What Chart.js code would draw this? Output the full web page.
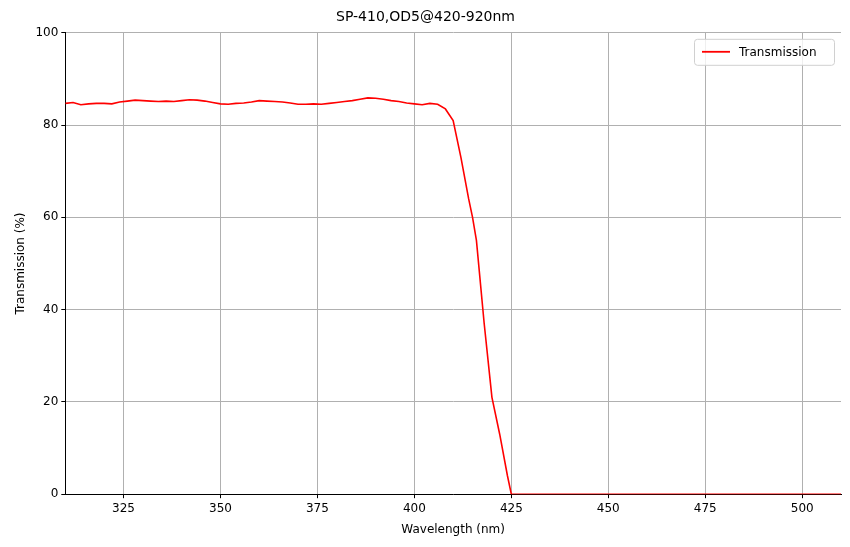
<!DOCTYPE html>
<html>
<head>
<script src="https://cdn.jsdelivr.net/npm/chart.js"></script>
<style>
  body { margin: 0; background: #fff; }
  #wrap { width: 850px; height: 547px; }
</style>
</head>
<body>
<div id="wrap"><canvas id="chart"></canvas></div>
<script>
// ===== DATA =====
const wavelengths = [310,312,314,316,318,320,322,324,326,328,330,332,334,336,338,340,342,344,346,348,
  350,352,354,356,358,360,362,364,366,368,370,372,374,376,378,380,382,384,386,388,390,392,394,396,398,
  400,402,404,406,408,410,412,414,415,416,418,420,422,424,425,440,460,480,500,510];
const transmission = [84.7,84.9,84.4,84.6,84.7,84.7,84.6,85.0,85.2,85.4,85.3,85.2,85.1,85.2,85.1,85.3,85.5,85.4,85.2,84.9,
  84.6,84.5,84.7,84.8,85.0,85.3,85.2,85.1,85.0,84.8,84.5,84.5,84.6,84.5,84.7,84.9,85.1,85.3,85.6,85.9,85.8,85.6,85.3,85.1,84.8,
  84.6,84.4,84.7,84.5,83.5,81.0,73,64,60,55,37,21,13,4,0,0,0,0,0,0];
const xTicks = [325,350,375,400,425,450,475,500];

const grid = { color: '#b0b0b0', lineWidth: 1, drawTicks: true, tickLength: 4, tickColor: '#000' };
const tickFont = { family: 'DejaVu Sans', size: 12 };

// legend box in the top right corner, matplotlib style
const boxLegend = {
  id: 'boxLegend',
  afterDraw(chart) {
    const { ctx, chartArea: a } = chart;
    const w = 140, h = 26, x = a.right - w - 7, y = a.top + 6;
    ctx.save();
    ctx.fillStyle = 'rgba(255,255,255,0.8)';
    ctx.strokeStyle = '#d0d0d0';
    ctx.lineWidth = 1;
    ctx.beginPath(); ctx.roundRect(x + 0.5, y + 0.5, w, h, 3); ctx.fill(); ctx.stroke();
    ctx.strokeStyle = '#ff0000'; ctx.lineWidth = 1.8;
    ctx.beginPath(); ctx.moveTo(x + 8, y + h / 2); ctx.lineTo(x + 36, y + h / 2); ctx.stroke();
    ctx.fillStyle = '#000'; ctx.font = '12px "DejaVu Sans"'; ctx.textBaseline = 'middle';
    ctx.fillText('Transmission', x + 45, y + h / 2 + 1);
    ctx.restore();
  }
};

new Chart(document.getElementById('chart'), {
  type: 'line',
  data: {
    datasets: [{
      label: 'Transmission',
      data: wavelengths.map((w, i) => ({ x: w, y: transmission[i] })),
      borderColor: '#ff0000', backgroundColor: '#ff0000',
      borderWidth: 1.6, pointRadius: 0, tension: 0
    }]
  },
  options: {
    responsive: true, maintainAspectRatio: false, animation: false,
    layout: { padding: { left: 10, right: 9, top: 3, bottom: 6 } },
    plugins: {
      title: { display: true, text: 'SP-410,OD5@420-920nm', color: '#000',
        font: { family: 'DejaVu Sans', size: 14, weight: 'normal' }, padding: { top: 6, bottom: 7 } },
      legend: { display: false }
    },
    scales: {
      x: {
        type: 'linear', min: 310, max: 510,
        afterBuildTicks: s => { s.ticks = xTicks.map(v => ({ value: v })); },
        grid, border: { color: '#000' },
        ticks: { color: '#000', font: tickFont },
        title: { display: true, text: 'Wavelength (nm)', color: '#000', font: tickFont }
      },
      y: {
        min: 0, max: 100,
        grid, border: { color: '#000' },
        ticks: { stepSize: 20, color: '#000', font: tickFont },
        title: { display: true, text: 'Transmission (%)', color: '#000', font: tickFont }
      }
    }
  },
  plugins: [boxLegend]
});
</script>
</body>
</html>
